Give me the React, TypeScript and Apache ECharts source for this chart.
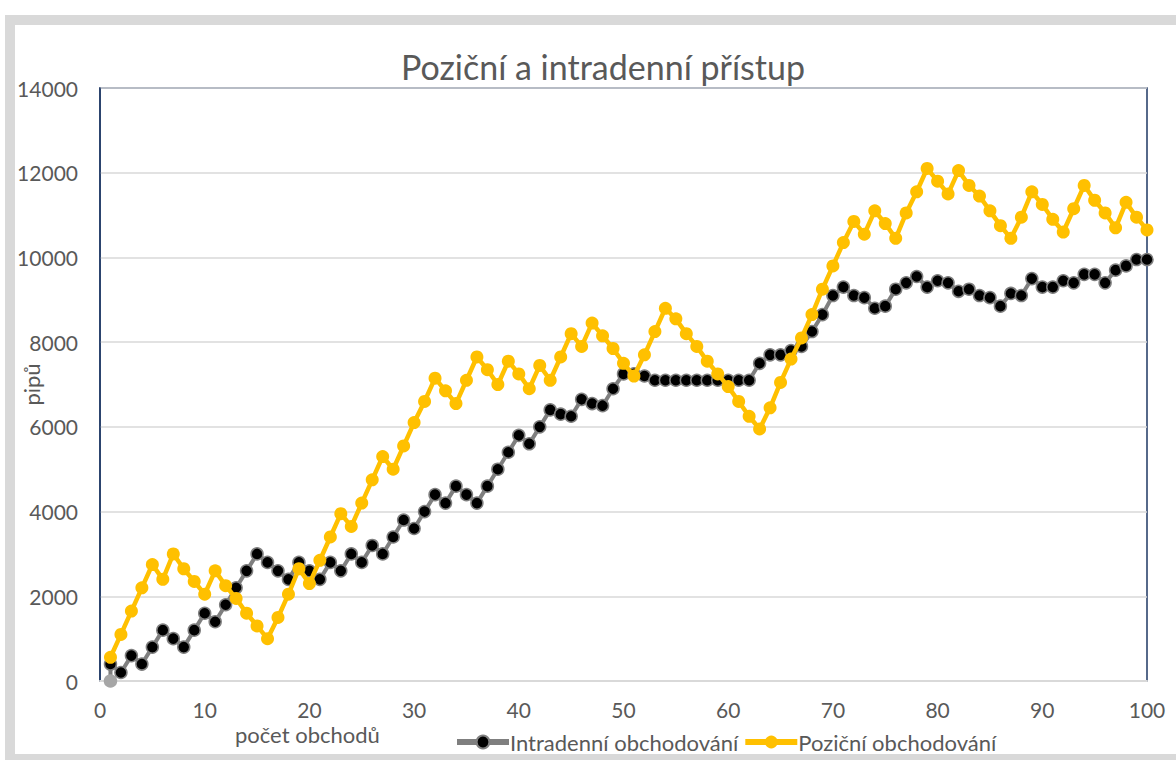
import React, { useEffect, useRef } from "react";
import * as echarts from "echarts";

const titleText = "Poziční a intradenní přístup";
const xAxisName = "počet obchodů";
const yAxisName = "pipů";
const seriesNames = ["Intradenní obchodování", "Poziční obchodování"];

// first (grey) point of the intraday series
const intradayStart = [1, 0];

// trades 1..100
const intraday = [
  400, 200, 600, 400, 800, 1200, 1000, 800, 1200, 1600,
  1400, 1800, 2200, 2600, 3000, 2800, 2600, 2400, 2800, 2600,
  2400, 2800, 2600, 3000, 2800, 3200, 3000, 3400, 3800, 3600,
  4000, 4400, 4200, 4600, 4400, 4200, 4600, 5000, 5400, 5800,
  5600, 6000, 6400, 6300, 6250, 6650, 6550, 6500, 6900, 7250,
  7250, 7200, 7100, 7100, 7100, 7100, 7100, 7100, 7100, 7100,
  7100, 7100, 7500, 7700, 7700, 7800, 7900, 8250, 8650, 9100,
  9300, 9100, 9050, 8800, 8850, 9250, 9400, 9550, 9300, 9450,
  9400, 9200, 9250, 9100, 9050, 8850, 9150, 9100, 9500, 9300,
  9300, 9450, 9400, 9600, 9600, 9400, 9700, 9800, 9950, 9950,
];

const positional = [
  560, 1100, 1650, 2200, 2750, 2400, 3000, 2650, 2350, 2050,
  2600, 2250, 1950, 1600, 1300, 1000, 1500, 2050, 2650, 2300,
  2850, 3400, 3950, 3650, 4200, 4750, 5300, 5000, 5550, 6100,
  6600, 7150, 6850, 6550, 7100, 7650, 7350, 7000, 7550, 7250,
  6900, 7450, 7100, 7650, 8200, 7900, 8450, 8150, 7850, 7500,
  7200, 7700, 8250, 8800, 8550, 8200, 7900, 7550, 7250, 6950,
  6600, 6250, 5950, 6450, 7050, 7600, 8100, 8650, 9250, 9800,
  10350, 10850, 10550, 11100, 10800, 10450, 11050, 11550, 12100, 11800,
  11500, 12050, 11700, 11450, 11100, 10750, 10450, 10950, 11550, 11250,
  10900, 10600, 11150, 11700, 11350, 11050, 10700, 11300, 10950, 10650,
];

const xTicks = { min: 0, max: 100, interval: 10 };
const yTicks = { min: 0, max: 14000, interval: 2000 };

const FONT = "Lato, 'Open Sans', sans-serif";
const TXT = "#595959";

export default function App() {
  const ref = useRef<HTMLDivElement>(null);

  useEffect(() => {
    const chart = echarts.init(ref.current!, null, { renderer: "svg" });

    const intradayData: any[] = [
      {
        value: intradayStart,
        itemStyle: { color: "#a6a6a6", borderColor: "#a6a6a6" },
      },
      ...intraday.map((v, i) => [i + 1, v]),
    ];
    const positionalData = positional.map((v, i) => [i + 1, v]);

    chart.setOption({
      animation: false,
      backgroundColor: "#ffffff",
      textStyle: { fontFamily: FONT },
      title: {
        text: titleText,
        left: 598,
        textAlign: "center",
        top: 44,
        textStyle: { fontFamily: FONT, fontSize: 34, fontWeight: "normal", color: TXT },
      },
      graphic: [
        { type: "rect", shape: { x: 5, y: 15, width: 10, height: 745 }, style: { fill: "#d9d9d9" }, silent: true },
        { type: "rect", shape: { x: 5, y: 15, width: 1171, height: 10 }, style: { fill: "#d9d9d9" }, silent: true },
        { type: "rect", shape: { x: 5, y: 754, width: 1171, height: 6 }, style: { fill: "#d9d9d9" }, silent: true },
        {
          type: "text",
          left: 235,
          top: 723,
          style: { text: xAxisName, fontFamily: FONT, fontSize: 22, fill: TXT },
          silent: true,
        },
      ],
      legend: {
        left: 449,
        top: 726,
        itemWidth: 52,
        itemHeight: 16,
        itemGap: 4,
        textStyle: { fontFamily: FONT, fontSize: 22, color: TXT, padding: [0, 0, 0, -4] },
        data: [
          { name: seriesNames[0], lineStyle: { width: 6 } },
          { name: seriesNames[1], lineStyle: { width: 6 } },
        ],
      },
      grid: {
        left: 100,
        right: 29,
        top: 88,
        bottom: 79,
        show: true,
        borderColor: "#1f3864",
        borderWidth: 1.5,
        containLabel: false,
        outerBoundsMode: "none",
      },
      xAxis: {
        type: "value",
        min: xTicks.min,
        max: xTicks.max,
        interval: xTicks.interval,
        axisLine: { show: true, lineStyle: { color: "#d9d9d9", width: 2 } },
        axisTick: { show: false },
        splitLine: { show: false },
        axisLabel: { color: TXT, fontSize: 21, fontFamily: FONT, margin: 18 },
      },
      yAxis: {
        type: "value",
        min: yTicks.min,
        max: yTicks.max,
        interval: yTicks.interval,
        name: yAxisName,
        nameLocation: "middle",
        nameRotate: 90,
        nameGap: 58,
        nameMoveOverlap: false,
        nameTextStyle: { color: TXT, fontSize: 22, fontFamily: FONT },
        axisLine: { show: true, lineStyle: { color: "#1f3864", width: 1.5 } },
        axisTick: { show: false },
        splitLine: { show: true, lineStyle: { color: "#d9d9d9", width: 1.5 } },
        axisLabel: {
          color: TXT,
          fontSize: 21,
          fontFamily: FONT,
          margin: 22,
          formatter: (v: number) => String(v),
        },
      },
      series: [
        {
          name: seriesNames[0],
          type: "line",
          data: intradayData,
          symbol: "circle",
          symbolSize: 12,
          lineStyle: { color: "#7f7f7f", width: 4 },
          itemStyle: { color: "#000000", borderColor: "#7f7f7f", borderWidth: 1.5 },
          z: 2,
        },
        {
          name: seriesNames[1],
          type: "line",
          data: positionalData,
          symbol: "circle",
          symbolSize: 13,
          lineStyle: { color: "#ffc000", width: 4.5 },
          itemStyle: { color: "#ffc000", borderColor: "#ffc000", borderWidth: 0 },
          z: 3,
        },
      ],
    });

    return () => chart.dispose();
  }, []);

  return (
    <div
      ref={ref}
      style={{ position: "absolute", left: 0, top: 0, width: 1176, height: 760 }}
    />
  );
}
